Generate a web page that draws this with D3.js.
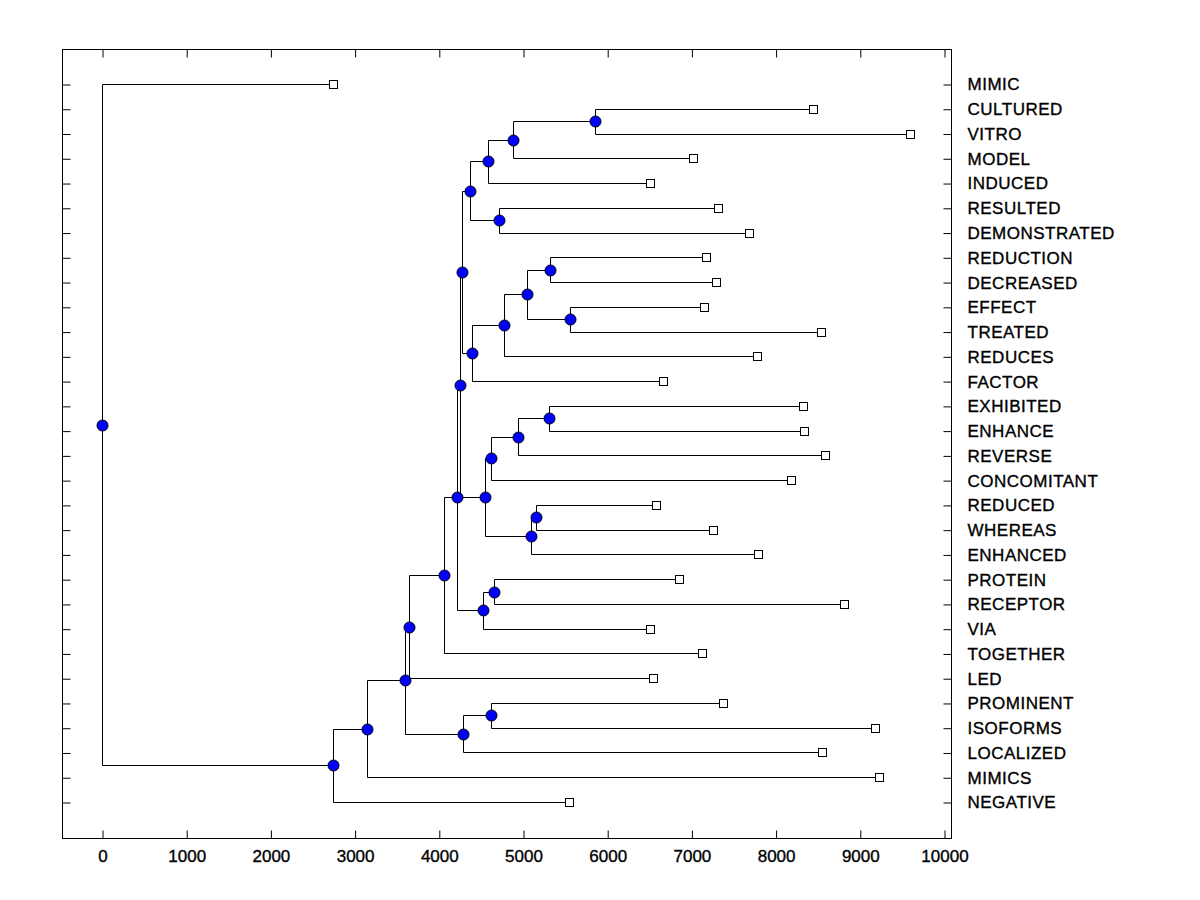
<!DOCTYPE html>
<html>
<head>
<meta charset="utf-8">
<script src="https://cdn.jsdelivr.net/npm/d3@7"></script>
<style>
  body { margin: 0; background: #fff; }
  svg { display: block; }
</style>
</head>
<body>
<svg id="chart" width="1200" height="900"></svg>
<script>
// leaves, top to bottom
const leafLabels = ["MIMIC", "CULTURED", "VITRO", "MODEL", "INDUCED", "RESULTED",
  "DEMONSTRATED", "REDUCTION", "DECREASED", "EFFECT", "TREATED", "REDUCES", "FACTOR",
  "EXHIBITED", "ENHANCE", "REVERSE", "CONCOMITANT", "REDUCED", "WHEREAS", "ENHANCED",
  "PROTEIN", "RECEPTOR", "VIA", "TOGETHER", "LED", "PROMINENT", "ISOFORMS",
  "LOCALIZED", "MIMICS", "NEGATIVE"];

// x position of each leaf square
const leafDist = [2743, 8444, 9596, 7019, 6508, 7316, 7684, 7173, 7292, 7150, 8539,
  7779, 6663, 8325, 8337, 8587, 8183, 6580, 7257, 7791, 6853, 8812, 6508, 7126,
  6544, 7375, 9181, 8551, 9228, 5546];

// merges: ids 0-29 are leaves, each merge makes node 30, 31, ...
const merges = [[1, 2], [30, 3], [31, 4], [5, 6], [32, 33], [7, 8], [9, 10], [35, 36],
  [37, 11], [38, 12], [34, 39], [13, 14], [41, 15], [42, 16], [17, 18], [44, 19],
  [43, 45], [40, 46], [20, 21], [48, 22], [47, 49], [50, 23], [51, 24], [25, 26],
  [53, 27], [52, 54], [55, 28], [56, 29], [0, 57]];

// x position of each merge node (blue dot)
const mergeDist = [5855, 4881, 4584, 4715, 4371, 5321, 5558, 5044, 4774, 4394, 4276,
  5309, 4941, 4620, 5154, 5091, 4549, 4248, 4656, 4525, 4216, 4062, 3646, 4620,
  4287, 3599, 3147, 2743, 0];

const xTicks = [0, 1000, 2000, 3000, 4000, 5000, 6000, 7000, 8000, 9000, 10000];

const svg = d3.select("#chart");
const frame = { left: 62, right: 951, top: 49, bottom: 838 };
const font = "'Liberation Sans', Arial, sans-serif";

const x = d3.scaleLinear().domain([0, 10000]).range([102, 944]);
const y = d3.scaleLinear().domain([0, leafLabels.length - 1]).range([84, 802]);
const px = v => Math.round(v) + 0.5;

// build the tree from the merge list
const nodes = leafLabels.map((name, i) => ({ name: name, dist: leafDist[i], row: i }));
merges.forEach((m, i) => {
  nodes.push({ children: [nodes[m[0]], nodes[m[1]]], dist: mergeDist[i] });
});
const root = d3.hierarchy(nodes[nodes.length - 1]);

// node y = middle of its children
root.eachAfter(d => {
  if (d.children) d.yPos = d3.mean(d.children, c => c.yPos);
  else d.yPos = y(d.data.row);
  d.xPos = x(d.data.dist);
});

// frame
svg.append("rect")
  .attr("x", frame.left + 0.5)
  .attr("y", frame.top + 0.5)
  .attr("width", frame.right - frame.left)
  .attr("height", frame.bottom - frame.top)
  .attr("fill", "none")
  .attr("stroke", "black")
  .attr("stroke-width", 1);

// bottom axis with labels, ticks pointing in
const xAxis = svg.append("g")
  .attr("transform", `translate(0.5,${frame.bottom + 0.5})`)
  .call(d3.axisBottom(x).tickValues(xTicks).tickSize(-8).tickSizeOuter(0)
    .tickPadding(11).tickFormat(d3.format("d")));
xAxis.select(".domain").remove();

// top axis, ticks only
const xAxisTop = svg.append("g")
  .attr("transform", `translate(0.5,${frame.top + 0.5})`)
  .call(d3.axisTop(x).tickValues(xTicks).tickSize(-8).tickSizeOuter(0).tickFormat(""));
xAxisTop.select(".domain").remove();

// left axis, ticks only
const yAxisLeft = svg.append("g")
  .attr("transform", `translate(${frame.left + 0.5},0.5)`)
  .call(d3.axisLeft(y).tickValues(d3.range(leafLabels.length))
    .tickSize(-8).tickSizeOuter(0).tickFormat(""));
yAxisLeft.select(".domain").remove();

// right axis with leaf names
const yAxisRight = svg.append("g")
  .attr("transform", `translate(${frame.right + 0.5},0.5)`)
  .call(d3.axisRight(y).tickValues(d3.range(leafLabels.length))
    .tickSize(-8).tickSizeOuter(0).tickPadding(16).tickFormat(i => leafLabels[i]));
yAxisRight.select(".domain").remove();

svg.selectAll(".tick text")
  .attr("font-family", font)
  .attr("font-size", "17px")
  .attr("fill", "black")
  .attr("stroke", "black")
  .attr("stroke-width", 0.35);
yAxisRight.selectAll(".tick text").attr("letter-spacing", "0.5px");
svg.selectAll(".tick line").attr("stroke", "black");

// dendrogram lines
const links = svg.append("g")
  .attr("stroke", "black")
  .attr("stroke-width", 1)
  .attr("fill", "none");

root.descendants().filter(d => d.children).forEach(d => {
  const ys = d.children.map(c => c.yPos);
  links.append("path")
    .attr("d", `M ${px(d.xPos)},${px(d3.min(ys))} L ${px(d.xPos)},${px(d3.max(ys))}`);
  d.children.forEach(c => {
    links.append("path")
      .attr("d", `M ${px(d.xPos)},${px(c.yPos)} L ${px(c.xPos)},${px(c.yPos)}`);
  });
});

// leaf squares
svg.append("g")
  .selectAll("rect")
  .data(root.leaves())
  .enter()
  .append("rect")
  .attr("x", d => px(d.xPos) - 4)
  .attr("y", d => px(d.yPos) - 4)
  .attr("width", 8)
  .attr("height", 8)
  .attr("fill", "white")
  .attr("stroke", "black")
  .attr("stroke-width", 1);

// merge dots
svg.append("g")
  .selectAll("circle")
  .data(root.descendants().filter(d => d.children))
  .enter()
  .append("circle")
  .attr("cx", d => px(d.xPos))
  .attr("cy", d => px(d.yPos))
  .attr("r", 5.5)
  .attr("fill", "#0000ff")
  .attr("stroke", "black")
  .attr("stroke-width", 1);
</script>
</body>
</html>
